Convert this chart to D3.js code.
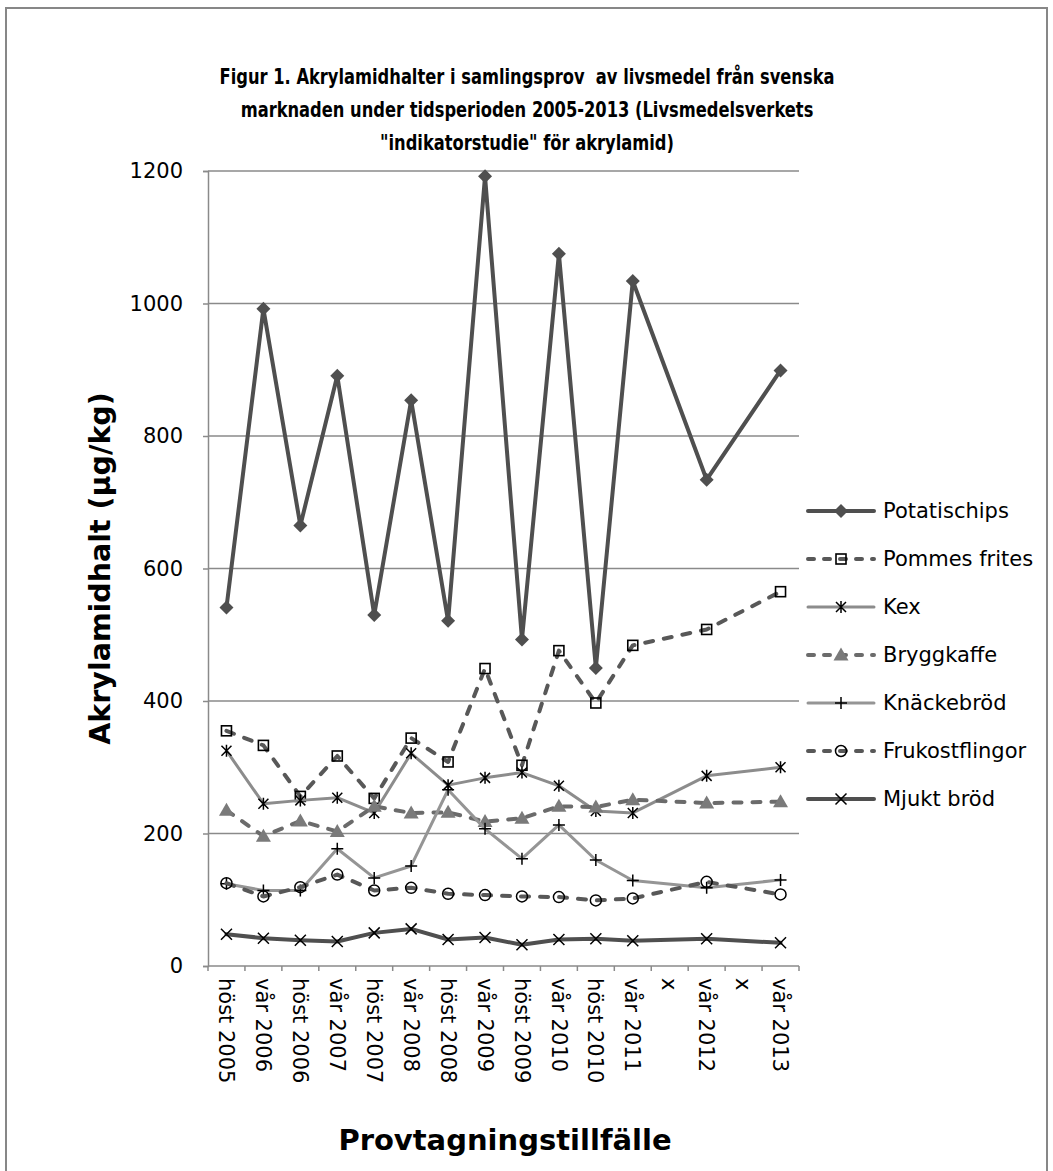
<!DOCTYPE html>
<html>
<head>
<meta charset="utf-8">
<script src="https://cdn.jsdelivr.net/npm/d3@7"></script>
<style>
  html, body { margin: 0; padding: 0; background: #fff; }
  svg { display: block; }
  text { font-family: "DejaVu Sans", sans-serif; fill: #000; }
</style>
</head>
<body>
<svg id="chart" width="1053" height="1171"></svg>
<script>
// Sampling occasions (the two "x" slots have no samples)
const categories = ["höst 2005", "vår 2006", "höst 2006", "vår 2007", "höst 2007", "vår 2008",
  "höst 2008", "vår 2009", "höst 2009", "vår 2010", "höst 2010", "vår 2011", "x", "vår 2012", "x", "vår 2013"];

// Acrylamide content, µg/kg
const potatischips   = [541, 992, 665, 891, 530, 854, 521, 1192, 493, 1075, 450, 1034, null, 734, null, 899];
const pommesFrites   = [355, 333, 256, 317, 253, 344, 308, 449, 303, 476, 397, 484, null, 508, null, 565];
const kex            = [325, 245, 250, 254, 231, 321, 273, 284, 292, 272, 234, 231, null, 287, null, 300];
const bryggkaffe     = [235, 196, 219, 203, 241, 231, 232, 218, 223, 241, 240, 251, null, 246, null, 248];
const knackebrod     = [124, 114, 114, 177, 133, 151, 266, 207, 162, 213, 160, 129, null, 118, null, 130];
const frukostflingor = [125, 105, 119, 138, 114, 118, 109, 107, 105, 104, 99, 102, null, 127, null, 108];
const mjuktBrod      = [48, 42, 39, 37, 50, 56, 40, 43, 32, 40, 41, 38, null, 41, null, 35];

const yTicks = [0, 200, 400, 600, 800, 1000, 1200];

const seriesNames = ["Potatischips", "Pommes frites", "Kex", "Bryggkaffe", "Knäckebröd", "Frukostflingor", "Mjukt bröd"];
const seriesValues = [potatischips, pommesFrites, kex, bryggkaffe, knackebrod, frukostflingor, mjuktBrod];

// Line and marker styling per series
const styles = [
  { color: "#4f4f4f", width: 4, dash: null,   marker: "diamond" },
  { color: "#585858", width: 4, dash: "8,11", marker: "square" },
  { color: "#8c8c8c", width: 3, dash: null,   marker: "asterisk" },
  { color: "#6b6b6b", width: 4, dash: "8,11", marker: "triangle" },
  { color: "#959595", width: 3, dash: null,   marker: "plus" },
  { color: "#585858", width: 4, dash: "8,11", marker: "circle" },
  { color: "#4f4f4f", width: 4, dash: null,   marker: "cross" }
];

const svg = d3.select("#chart");

// Outer chart frame
svg.append("rect")
  .attr("x", 6).attr("y", 8).attr("width", 1041).attr("height", 1180)
  .attr("fill", "#fff").attr("stroke", "#878787").attr("stroke-width", 2);

const plot = { left: 208, right: 799, top: 171, bottom: 966 };

const x = d3.scalePoint().domain(d3.range(categories.length))
  .range([plot.left, plot.right]).padding(0.5);
const y = d3.scaleLinear().domain([0, 1200]).range([plot.bottom, plot.top]);

// Title (bold, drawn slightly tall to give a condensed look)
const titleLines = [
  "Figur 1. Akrylamidhalter i samlingsprov  av livsmedel från svenska",
  "marknaden under tidsperioden 2005-2013 (Livsmedelsverkets",
  "\"indikatorstudie\" för akrylamid)"
];
const titleScale = 1.25;
svg.append("g")
  .attr("transform", `scale(1,${titleScale})`)
  .append("text")
  .attr("x", 527).attr("y", 84 / titleScale)
  .attr("text-anchor", "middle")
  .style("font-weight", "bold").style("font-size", "16.3px")
  .style("white-space", "pre")
  .selectAll("tspan").data(titleLines).join("tspan")
  .attr("x", 527).attr("dy", (d, i) => i === 0 ? 0 : 33 / titleScale)
  .text(d => d);

// Horizontal gridlines
svg.append("g").selectAll("line").data(yTicks.filter(t => t > 0)).join("line")
  .attr("x1", plot.left).attr("x2", plot.right)
  .attr("y1", d => y(d)).attr("y2", d => y(d))
  .attr("stroke", "#8a8a8a").attr("stroke-width", 1.5);

// Y axis
const yAxis = svg.append("g")
  .attr("transform", `translate(${plot.left},0)`)
  .call(d3.axisLeft(y).tickValues(yTicks).tickSize(5).tickPadding(20).tickFormat(d3.format("d")));
yAxis.select(".domain").attr("stroke", "#8a8a8a").attr("stroke-width", 1.5);
yAxis.selectAll(".tick line").attr("stroke", "#8a8a8a").attr("stroke-width", 1.5);
yAxis.selectAll(".tick text").style("font-size", "21px").style("font-family", "DejaVu Sans, sans-serif");

// X axis baseline with tick marks between categories
svg.append("line")
  .attr("x1", plot.left).attr("x2", plot.right)
  .attr("y1", plot.bottom).attr("y2", plot.bottom)
  .attr("stroke", "#8a8a8a").attr("stroke-width", 1.5);
const step = x.step();
svg.append("g").selectAll("line").data(d3.range(categories.length + 1)).join("line")
  .attr("x1", i => plot.left + i * step).attr("x2", i => plot.left + i * step)
  .attr("y1", plot.bottom).attr("y2", plot.bottom + 5)
  .attr("stroke", "#8a8a8a").attr("stroke-width", 1.5);

// Category labels, rotated to read downward
svg.append("g").selectAll("text").data(categories).join("text")
  .attr("transform", (d, i) => `translate(${x(i)},${plot.bottom + 12}) rotate(90)`)
  .attr("dy", "0.35em")
  .style("font-size", "21px")
  .text(d => d);

// Axis titles
svg.append("text")
  .attr("transform", `translate(110,${(plot.top + plot.bottom) / 2}) rotate(-90)`)
  .attr("text-anchor", "middle")
  .style("font-weight", "bold").style("font-size", "28.5px")
  .text("Akrylamidhalt (µg/kg)");
svg.append("text")
  .attr("x", 505).attr("y", 1150)
  .attr("text-anchor", "middle")
  .style("font-weight", "bold").style("font-size", "29px")
  .text("Provtagningstillfälle");

// Marker drawing
function drawMarker(g, type, color) {
  switch (type) {
    case "diamond":
      g.append("path").attr("d", "M0,-7L7,0L0,7L-7,0Z").attr("fill", color); break;
    case "square":
      g.append("rect").attr("x", -5).attr("y", -5).attr("width", 10).attr("height", 10)
        .attr("fill", "none").attr("stroke", "#000").attr("stroke-width", 1.6); break;
    case "asterisk":
      g.append("path").attr("d", "M-5,-5L5,5M-5,5L5,-5M0,-6L0,6")
        .attr("fill", "none").attr("stroke", "#000").attr("stroke-width", 1.5); break;
    case "triangle":
      g.append("path").attr("d", "M0,-7.5L7.5,5.5L-7.5,5.5Z").attr("fill", "#7a7a7a"); break;
    case "plus":
      g.append("path").attr("d", "M-6,0L6,0M0,-6L0,6")
        .attr("fill", "none").attr("stroke", "#000").attr("stroke-width", 1.5); break;
    case "circle":
      g.append("circle").attr("r", 5.5)
        .attr("fill", "none").attr("stroke", "#000").attr("stroke-width", 1.5); break;
    case "cross":
      g.append("path").attr("d", "M-5.5,-5.5L5.5,5.5M-5.5,5.5L5.5,-5.5")
        .attr("fill", "none").attr("stroke", "#000").attr("stroke-width", 1.5); break;
  }
}

const line = d3.line().x(d => x(d.i)).y(d => y(d.v));

// Series lines and markers (empty slots are skipped, so lines bridge them)
seriesValues.forEach((vals, s) => {
  const st = styles[s];
  const pts = vals.map((v, i) => ({ i, v })).filter(d => d.v !== null);
  const g = svg.append("g");
  g.append("path")
    .attr("d", line(pts))
    .attr("fill", "none")
    .attr("stroke", st.color)
    .attr("stroke-width", st.width)
    .attr("stroke-linejoin", "round")
    .attr("stroke-linecap", "round")
    .attr("stroke-dasharray", st.dash);
  pts.forEach(p => {
    const m = g.append("g").attr("transform", `translate(${x(p.i)},${y(p.v)})`);
    drawMarker(m, st.marker, st.color);
  });
});

// Legend
const legend = svg.append("g");
seriesNames.forEach((name, s) => {
  const st = styles[s];
  const ly = 511 + s * 48;
  legend.append("line")
    .attr("x1", 808).attr("x2", 874).attr("y1", ly).attr("y2", ly)
    .attr("stroke", st.color).attr("stroke-width", st.width)
    .attr("stroke-linecap", "round")
    .attr("stroke-dasharray", st.dash ? "6,10" : null);
  const m = legend.append("g").attr("transform", `translate(841,${ly})`);
  drawMarker(m, st.marker, st.color);
  legend.append("text")
    .attr("x", 883).attr("y", ly).attr("dy", "0.35em")
    .style("font-size", "21px")
    .text(name);
});
</script>
</body>
</html>
